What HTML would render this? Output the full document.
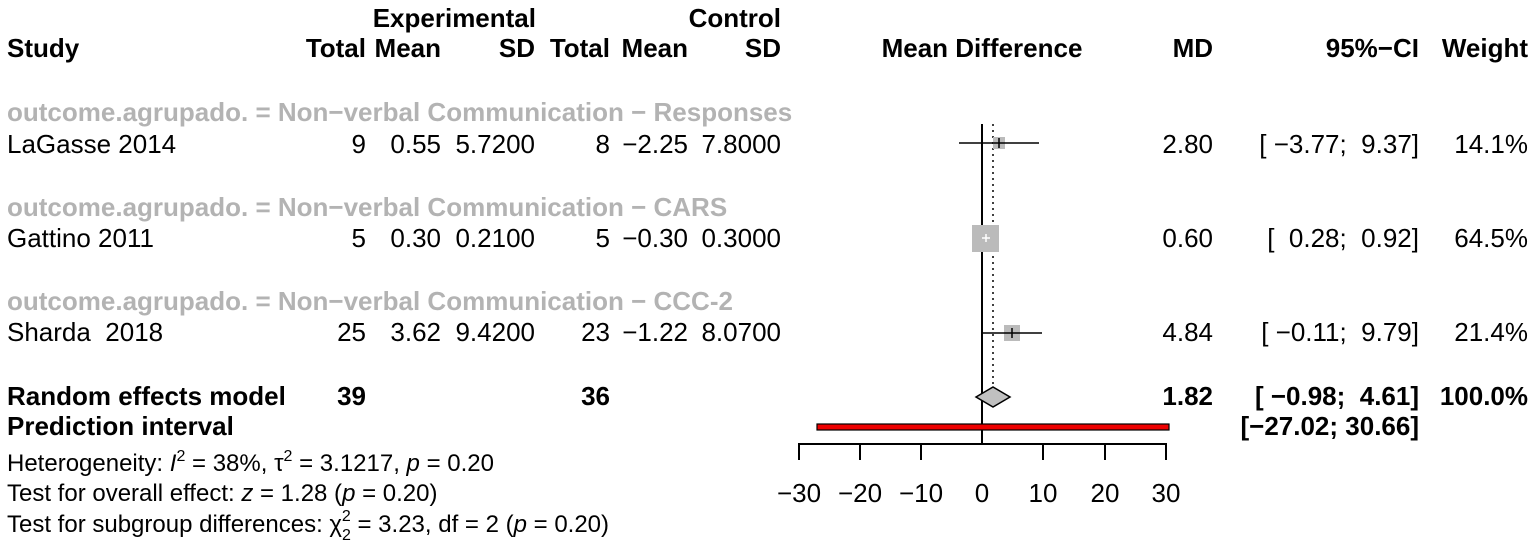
<!DOCTYPE html>
<html><head><meta charset="utf-8"><style>
body{margin:0;background:#fff}
svg text{font-family:"Liberation Sans",Arial,sans-serif;font-size:26px;fill:#000;white-space:pre}
.b{font-weight:bold}
.g{fill:#b3b3b3 !important;font-weight:bold}
.s{font-size:24px !important}
</style></head><body>
<svg width="1535" height="546" xmlns="http://www.w3.org/2000/svg">
<text x="536" y="27" text-anchor="end" class="b">Experimental</text>
<text x="781" y="27" text-anchor="end" class="b">Control</text>
<text x="7" y="57" class="b">Study</text>
<text x="366" y="57" text-anchor="end" class="b">Total</text>
<text x="441" y="57" text-anchor="end" class="b">Mean</text>
<text x="535" y="57" text-anchor="end" class="b">SD</text>
<text x="610" y="57" text-anchor="end" class="b">Total</text>
<text x="688" y="57" text-anchor="end" class="b">Mean</text>
<text x="781" y="57" text-anchor="end" class="b">SD</text>
<text x="982" y="57" text-anchor="middle" class="b">Mean Difference</text>
<text x="1213" y="57" text-anchor="end" class="b">MD</text>
<text x="1419" y="57" text-anchor="end" class="b">95%−CI</text>
<text x="1528" y="57" text-anchor="end" class="b">Weight</text>
<text x="7" y="121" class="g">outcome.agrupado. = Non−verbal Communication − Responses</text>
<text x="7" y="153">LaGasse 2014</text>
<text x="366" y="153" text-anchor="end">9</text><text x="441" y="153" text-anchor="end">0.55</text><text x="535" y="153" text-anchor="end">5.7200</text>
<text x="610" y="153" text-anchor="end">8</text><text x="688" y="153" text-anchor="end">−2.25</text><text x="781" y="153" text-anchor="end">7.8000</text>
<text x="1213" y="153" text-anchor="end">2.80</text><text x="1419" y="153" text-anchor="end">[ −3.77;  9.37]</text><text x="1528" y="153" text-anchor="end">14.1%</text>
<text x="7" y="216" class="g">outcome.agrupado. = Non−verbal Communication − CARS</text>
<text x="7" y="247">Gattino 2011</text>
<text x="366" y="247" text-anchor="end">5</text><text x="441" y="247" text-anchor="end">0.30</text><text x="535" y="247" text-anchor="end">0.2100</text>
<text x="610" y="247" text-anchor="end">5</text><text x="688" y="247" text-anchor="end">−0.30</text><text x="781" y="247" text-anchor="end">0.3000</text>
<text x="1213" y="247" text-anchor="end">0.60</text><text x="1419" y="247" text-anchor="end">[  0.28;  0.92]</text><text x="1528" y="247" text-anchor="end">64.5%</text>
<text x="7" y="310" class="g">outcome.agrupado. = Non−verbal Communication − CCC-2</text>
<text x="7" y="341">Sharda  2018</text>
<text x="366" y="341" text-anchor="end">25</text><text x="441" y="341" text-anchor="end">3.62</text><text x="535" y="341" text-anchor="end">9.4200</text>
<text x="610" y="341" text-anchor="end">23</text><text x="688" y="341" text-anchor="end">−1.22</text><text x="781" y="341" text-anchor="end">8.0700</text>
<text x="1213" y="341" text-anchor="end">4.84</text><text x="1419" y="341" text-anchor="end">[ −0.11;  9.79]</text><text x="1528" y="341" text-anchor="end">21.4%</text>
<text x="7" y="405" class="b">Random effects model</text>
<text x="366" y="405" text-anchor="end" class="b">39</text><text x="610" y="405" text-anchor="end" class="b">36</text>
<text x="1213" y="405" text-anchor="end" class="b">1.82</text><text x="1419" y="405" text-anchor="end" class="b">[ −0.98;  4.61]</text><text x="1528" y="405" text-anchor="end" class="b">100.0%</text>
<text x="7" y="435" class="b">Prediction interval</text>
<text x="1419" y="435" text-anchor="end" class="b">[−27.02; 30.66]</text>
<text x="7" y="471" class="s">Heterogeneity: <tspan font-style="italic">I</tspan><tspan dy="-10" style="font-size:16px">2</tspan><tspan dy="10"> = 38%, τ</tspan><tspan dy="-10" style="font-size:16px">2</tspan><tspan dy="10"> = 3.1217, </tspan><tspan font-style="italic">p</tspan> = 0.20</text>
<text x="7" y="501" class="s">Test for overall effect: <tspan font-style="italic">z</tspan> = 1.28 (<tspan font-style="italic">p</tspan> = 0.20)</text>
<text x="7" y="532" class="s">Test for subgroup differences: χ<tspan dy="8" style="font-size:16px">2</tspan><tspan dx="-9" dy="-19" style="font-size:16px">2</tspan><tspan dy="11"> = 3.23, df = 2 (</tspan><tspan font-style="italic">p</tspan> = 0.20)</text>
<line x1="982" y1="124" x2="982" y2="444" stroke="#000" stroke-width="2"/>
<line x1="993" y1="124" x2="993" y2="388" stroke="#000" stroke-width="1.5" stroke-dasharray="2,4"/>
<rect x="993" y="137" width="12" height="12" fill="#bbb"/>
<line x1="959" y1="143" x2="1039" y2="143" stroke="#000" stroke-width="1.5"/>
<line x1="999" y1="138" x2="999" y2="148" stroke="#000" stroke-width="1.5"/>
<rect x="972" y="225" width="27" height="27" fill="#bbb"/>
<line x1="982" y1="238" x2="990" y2="238" stroke="#fff" stroke-width="1.5"/><line x1="986" y1="234" x2="986" y2="242" stroke="#fff" stroke-width="1.5"/>
<rect x="1004" y="325" width="16" height="16" fill="#bbb"/>
<line x1="981" y1="333" x2="1042" y2="333" stroke="#000" stroke-width="1.5"/>
<line x1="1012" y1="328" x2="1012" y2="338" stroke="#000" stroke-width="1.5"/>
<polygon points="976,397 993,387 1010,397 993,407" fill="#c0c0c0" stroke="#000" stroke-width="1.5"/>
<rect x="817" y="424" width="352" height="6" fill="#e00" stroke="#000" stroke-width="1.2"/>
<path d="M799 460V444H1166V460M860 444V460M921 444V460M1043 444V460M1105 444V460" fill="none" stroke="#000" stroke-width="2"/>
<text x="799" y="502" text-anchor="middle">−30</text><text x="860" y="502" text-anchor="middle">−20</text><text x="921" y="502" text-anchor="middle">−10</text><text x="982" y="502" text-anchor="middle">0</text><text x="1043" y="502" text-anchor="middle">10</text><text x="1105" y="502" text-anchor="middle">20</text><text x="1166" y="502" text-anchor="middle">30</text>
</svg>
</body></html>
